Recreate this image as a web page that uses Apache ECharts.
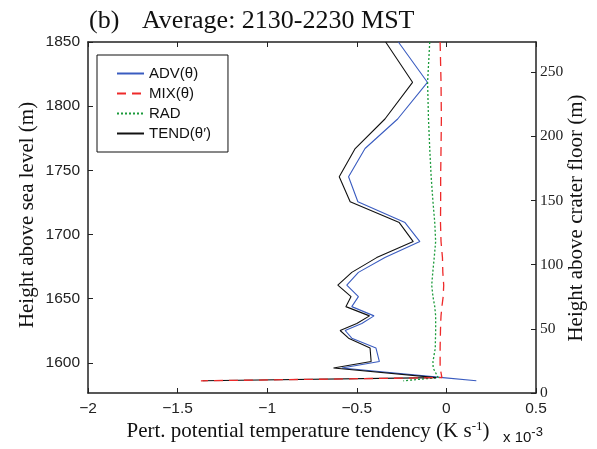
<!DOCTYPE html>
<html><head><meta charset="utf-8">
<script src="https://cdn.jsdelivr.net/npm/echarts@6/dist/echarts.min.js"></script>
<style>html,body{margin:0;padding:0;background:#fff}#c{width:597px;height:449px}</style>
</head><body><div id="c"></div>
<script>
// Heights above sea level (m) of profile levels
const heights = [1850, 1818.6, 1790, 1767, 1745, 1725.5, 1709.3, 1694.5, 1682, 1670.5, 1660.5, 1651.6, 1643.8, 1636.6, 1630.7, 1625.2, 1619.2, 1611.5, 1601, 1596, 1588.5, 1586];
// Tendencies in units of 1e-3 K/s
const adv  = [-0.268, -0.106, -0.272, -0.454, -0.546, -0.494, -0.231, -0.148, -0.343, -0.491, -0.556, -0.491, -0.528, -0.404, -0.472, -0.565, -0.528, -0.393, -0.374, -0.583, -0.02, 0.167];
const mix  = [-0.035, -0.03, -0.028, -0.03, -0.032, -0.032, -0.033, -0.03, -0.022, -0.02, -0.015, -0.018, -0.025, -0.03, -0.032, -0.033, -0.034, -0.035, -0.035, -0.035, -0.025, -1.37];
const rad  = [-0.093, -0.105, -0.1, -0.093, -0.085, -0.075, -0.065, -0.06, -0.068, -0.076, -0.082, -0.075, -0.065, -0.06, -0.06, -0.06, -0.061, -0.062, -0.075, -0.074, -0.046, -0.24];
const tend = [-0.339, -0.189, -0.343, -0.509, -0.598, -0.537, -0.263, -0.185, -0.389, -0.528, -0.606, -0.532, -0.561, -0.429, -0.5, -0.593, -0.546, -0.426, -0.42, -0.63, -0.056, -1.36];
const seriesNames = ['ADV(θ)', 'MIX(θ)', 'RAD', 'TEND(θ′)'];
const leftTicks = [1600, 1650, 1700, 1750, 1800, 1850];
const rightTicks = [0, 50, 100, 150, 200, 250];
const xMin = -2, xMax = 0.5, xStep = 0.5;
const floorHeight = 1576.5, topHeight = 1850;

const pairs = arr => arr.map((v, i) => [v, heights[i]]);
const axisCol = '#222';
const chart = echarts.init(document.getElementById('c'), null, {renderer: 'canvas'});
const sans = 'Liberation Sans, Arial, sans-serif';
const serif = 'Liberation Serif, Times New Roman, serif';

chart.setOption({
  animation: false,
  backgroundColor: '#fff',
  grid: {left: 88, right: 61, top: 42, bottom: 56, containLabel: false},
  xAxis: [
    {type: 'value', position: 'bottom', min: xMin, max: xMax, interval: xStep,
     axisLine: {show: true, onZero: false, lineStyle: {color: axisCol, width: 1.5}},
     axisTick: {show: true, inside: true, length: 5, lineStyle: {color: axisCol}},
     splitLine: {show: false},
     axisLabel: {margin: 8, color: '#222', fontFamily: sans, fontSize: 15.5,
       formatter: v => String(v).replace('-', '\u2212')}},
    {type: 'value', position: 'top', min: xMin, max: xMax, interval: xStep,
     axisLine: {show: true, onZero: false, lineStyle: {color: axisCol, width: 1.5}},
     axisTick: {show: true, inside: true, length: 5, lineStyle: {color: axisCol}},
     splitLine: {show: false}, axisLabel: {show: false}}
  ],
  yAxis: [
    {type: 'value', position: 'left', min: floorHeight, max: topHeight,
     axisLine: {show: true, onZero: false, lineStyle: {color: axisCol, width: 1.5}},
     axisTick: {show: true, inside: true, length: 5, customValues: leftTicks, lineStyle: {color: axisCol}},
     splitLine: {show: false},
     axisLabel: {margin: 8, color: '#222', fontFamily: sans, fontSize: 15.5, customValues: leftTicks,
       formatter: v => String(v)}},
    {type: 'value', position: 'right', min: 0, max: topHeight - floorHeight,
     axisLine: {show: true, onZero: false, lineStyle: {color: axisCol, width: 1.5}},
     axisTick: {show: true, inside: true, length: 5, customValues: rightTicks, lineStyle: {color: axisCol}},
     splitLine: {show: false},
     axisLabel: {margin: 4, color: '#222', fontFamily: serif, fontSize: 15.5, customValues: rightTicks,
       formatter: v => String(v)}}
  ],
  legend: {
    orient: 'vertical', left: 97, top: 55,
    data: seriesNames,
    itemWidth: 27, itemHeight: 14, itemGap: 5,
    padding: [11, 17, 11, 19],
    itemStyle: {opacity: 0},
    borderColor: '#111', borderWidth: 1, backgroundColor: '#fff',
    textStyle: {fontFamily: sans, fontSize: 15, color: '#111'}
  },
  title: [
    {text: '(b)', left: 84, top: 3, textStyle: {fontFamily: serif, fontSize: 26, fontWeight: 'normal', color: '#111'}},
    {text: 'Average: 2130-2230 MST', left: 137, top: 3, textStyle: {fontFamily: serif, fontSize: 26, fontWeight: 'normal', color: '#111'}}
  ],
  graphic: [
    {type: 'text', x: 27, y: 215, rotation: Math.PI / 2,
     style: {text: 'Height above sea level (m)', font: '21px ' + serif, fill: '#111', align: 'center', verticalAlign: 'middle'}},
    {type: 'text', x: 576, y: 218, rotation: Math.PI / 2,
     style: {text: 'Height above crater floor (m)', font: '21px ' + serif, fill: '#111', align: 'center', verticalAlign: 'middle'}},
    {type: 'text', x: 308, y: 431,
     style: {text: '{a|Pert. potential temperature tendency (K s}{s|-1}{a|)}', align: 'center', verticalAlign: 'middle',
       rich: {a: {fontFamily: serif, fontSize: 21, fill: '#111', color: '#111'}, s: {fontFamily: serif, fontSize: 13, color: '#111', fill: '#111', verticalAlign: 'top', padding: [0,0,8,0]}}}},
    {type: 'text', x: 503, y: 438,
     style: {text: '{a|x 10}{s|-3}', align: 'left', verticalAlign: 'middle',
       rich: {a: {fontFamily: sans, fontSize: 15, color: '#111', fill: '#111'}, s: {fontFamily: sans, fontSize: 13, color: '#111', fill: '#111', padding: [0,0,12,0]}}}}
  ],
  series: [
    {name: seriesNames[0], type: 'line', data: pairs(adv), xAxisIndex: 0, yAxisIndex: 0, symbol: 'none', z: 2,
     lineStyle: {color: '#3a5cc0', width: 1.1}, itemStyle: {color: '#3a5cc0'}},
    {name: seriesNames[1], type: 'line', data: pairs(mix), xAxisIndex: 0, yAxisIndex: 0, symbol: 'none', z: 4,
     lineStyle: {color: '#ee2a2a', width: 1.3, type: [9, 6]}, itemStyle: {color: '#ee2a2a'}},
    {name: seriesNames[2], type: 'line', data: pairs(rad), xAxisIndex: 0, yAxisIndex: 0, symbol: 'none', z: 2,
     lineStyle: {color: '#1a9a3a', width: 1.3, type: [2, 2]}, itemStyle: {color: '#1a9a3a'}},
    {name: seriesNames[3], type: 'line', data: pairs(tend), xAxisIndex: 0, yAxisIndex: 0, symbol: 'none', z: 3,
     lineStyle: {color: '#111', width: 1.1}, itemStyle: {color: '#111'}}
  ]
});
</script></body></html>
